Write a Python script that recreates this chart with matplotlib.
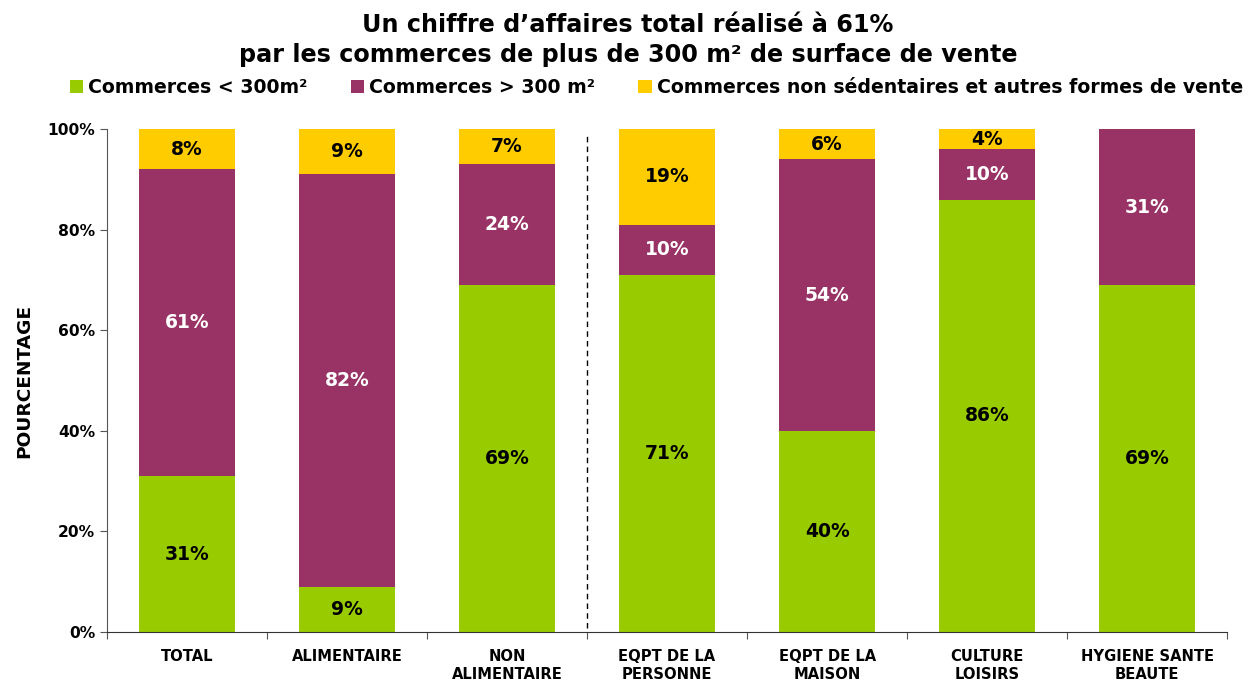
import matplotlib.pyplot as plt
import numpy as np

categories = ["TOTAL", "ALIMENTAIRE", "NON\nALIMENTAIRE", "EQPT DE LA\nPERSONNE",
              "EQPT DE LA\nMAISON", "CULTURE\nLOISIRS", "HYGIENE SANTE\nBEAUTE"]
small = [31, 9, 69, 71, 40, 86, 69]
large = [61, 82, 24, 10, 54, 10, 31]
other = [8, 9, 7, 19, 6, 4, 0]
series_names = ["Commerces < 300m²", "Commerces > 300 m²",
                "Commerces non sédentaires et autres formes de vente"]
colors = ["#99CC00", "#993366", "#FFCC00"]
label_colors = ["black", "white", "black"]

plt.rcParams['font.family'] = ['DejaVu Sans']

fig = plt.figure(figsize=(12.56, 6.8), dpi=100)
ax = fig.add_axes([0.0852, 0.0706, 0.8918, 0.7394])

x = np.arange(len(categories))
bottom = np.zeros(len(categories))
for vals, name, col, lc in zip([small, large, other], series_names, colors, label_colors):
    v = np.array(vals) / 100.0
    bars = ax.bar(x, v, 0.6, bottom=bottom, color=col, label=name)
    for xi, b, h, raw in zip(x, bottom, v, vals):
        if raw > 0:
            ax.text(xi, b + h / 2, f"{raw}%", ha="center", va="center",
                    fontsize=13.5, fontweight="bold", color=lc)
    bottom = bottom + v

ax.set_xlim(-0.5, len(categories) - 0.5)
ax.set_ylim(0, 1)
ax.set_yticks(np.arange(0, 1.01, 0.2))
ax.set_yticklabels([f"{int(t*100)}%" for t in np.arange(0, 1.01, 0.2)],
                   fontsize=11.2, fontweight="bold")
ax.set_xticks(np.arange(-0.5, len(categories), 1.0))
ax.set_xticklabels([])
ax.set_xticks(x, minor=True)
ax.set_xticklabels(categories, minor=True, fontsize=10.6, fontweight="bold", linespacing=1.28)
ax.tick_params(axis="x", which="minor", length=0, pad=12)
ax.tick_params(axis="x", which="major", length=5, color="#555555")
ax.tick_params(axis="y", length=5, color="#555555")
for s in ["top", "right"]:
    ax.spines[s].set_visible(False)
ax.spines["left"].set_color("#555555")
ax.spines["bottom"].set_color("#333333")

ax.plot([2.5, 2.5], [0.008, 0.99], color="black", linestyle=(0, (4, 3)), linewidth=1)

ax.set_ylabel("POURCENTAGE", fontsize=13.3, fontweight="bold", labelpad=10)

fig.suptitle("Un chiffre d\u2019affaires total réalisé à 61%\npar les commerces de plus de 300 m² de surface de vente",
             y=0.981, fontsize=17.2, fontweight="bold", linespacing=1.3)

leg = fig.legend(loc="center", bbox_to_anchor=(0.5225, 0.8706), ncol=3, frameon=False,
                 prop={"size": 13.6, "weight": "bold"}, handlelength=0.7, handleheight=0.7,
                 handletextpad=0.27, columnspacing=2.3)

fig.savefig("out.png", dpi=100)
plt.close()
